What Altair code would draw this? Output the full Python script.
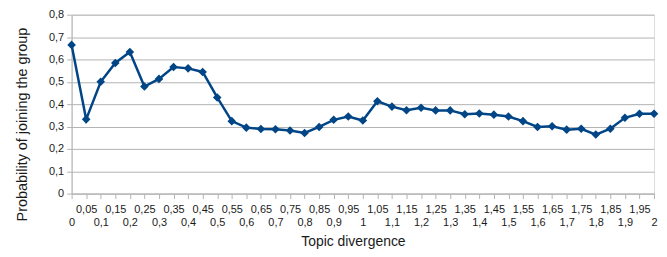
import altair as alt
import pandas as pd

divergence = [round(i * 0.05, 2) for i in range(41)]
probability = [0.665, 0.332, 0.500, 0.584, 0.633, 0.479, 0.513, 0.566, 0.560, 0.544,
               0.430, 0.324, 0.295, 0.289, 0.288, 0.282, 0.271, 0.298, 0.330, 0.345,
               0.327, 0.413, 0.389, 0.373, 0.384, 0.372, 0.372, 0.355, 0.358, 0.353,
               0.345, 0.324, 0.298, 0.301, 0.286, 0.290, 0.264, 0.290, 0.339, 0.357,
               0.357]
y_ticks = [0, 0.1, 0.2, 0.3, 0.4, 0.5, 0.6, 0.7, 0.8]

df = pd.DataFrame({"x": divergence, "y": probability})

FONT = "Liberation Sans"
BLUE = "#004586"
GRID = "#b3b3b3"
TXT = "#1a1a1a"

x_enc = alt.X(
    "x:Q",
    scale=alt.Scale(domain=[0, 2], nice=False, zero=False),
    axis=alt.Axis(
        values=divergence,
        title="Topic divergence",
        titleFont=FONT, titleFontSize=14, titleFontWeight="normal", titleColor=TXT,
        titleX=283, titleY=48, titleBaseline="middle", titleAlign="center",
        labelFont=FONT, labelFontSize=11, labelColor=TXT,
        labelExpr="replace(format(datum.value, '.2~f'), '.', ',')",
        labelPadding=alt.ExprRef("round(datum.value * 20) % 2 == 1 ? 5 : 18"),
        labelOverlap=False, labelFlush=False,
        labelAngle=0,
        grid=False, ticks=True, tickSize=5, tickColor=GRID,
        domainColor=GRID,
    ),
)
y_enc = alt.Y(
    "y:Q",
    scale=alt.Scale(domain=[0, 0.8], nice=False),
    axis=alt.Axis(
        values=y_ticks,
        title="Probability of joining the group",
        titleFont=FONT, titleFontSize=14.5, titleFontWeight="normal", titleColor=TXT,
        titleX=-49, titleY=110, titleBaseline="middle", titleAlign="center", titleAngle=270,
        labelFont=FONT, labelFontSize=11, labelColor=TXT,
        labelExpr="datum.value == 0 ? '0' : replace(format(datum.value, '.1f'), '.', ',')",
        labelPadding=3, labelOverlap=False,
        grid=True, gridColor=GRID, gridWidth=1,
        ticks=True, tickSize=5, tickColor=GRID,
        domainColor=GRID,
    ),
)

base = alt.Chart(df).encode(x=x_enc, y=y_enc)
line = base.mark_line(color=BLUE, strokeWidth=2.5)
pts = base.mark_point(shape="diamond", filled=True, color=BLUE, size=75, opacity=1)

chart = (
    alt.layer(line, pts)
    .properties(width=586, height=180, padding={"left": 6, "top": 0, "right": 0, "bottom": 0})
    .configure_view(stroke=GRID, strokeWidth=1)
    .configure(background="white")
)

chart.save("out.html", embed_options={"renderer": "svg", "actions": False})
